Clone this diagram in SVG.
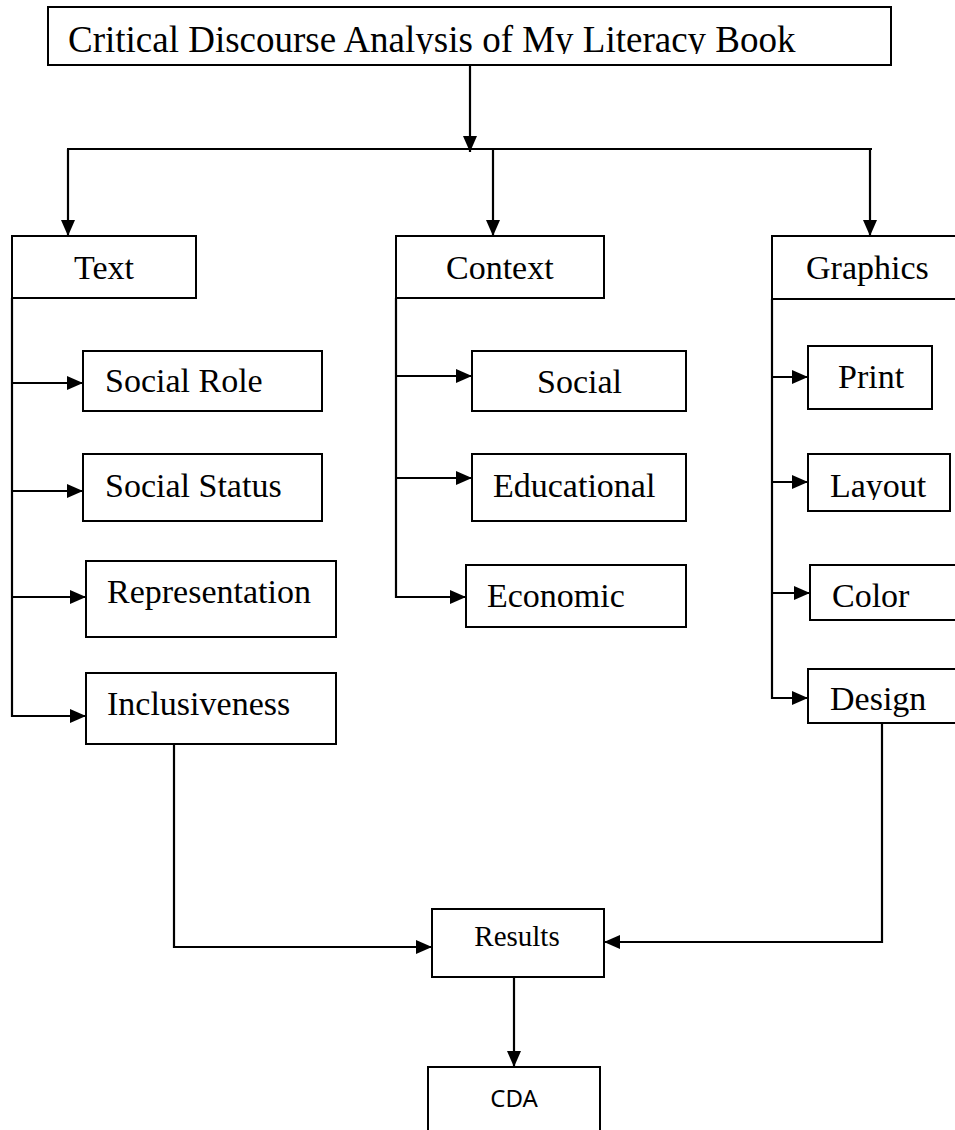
<svg xmlns="http://www.w3.org/2000/svg" width="955" height="1130" viewBox="0 0 955 1130">
<style>
.box{fill:#fff;stroke:#000;stroke-width:2}
.lbl{font-family:"Liberation Serif","Times New Roman",serif;font-size:34px;fill:#000}
.ttl{font-size:37px}
.res{font-size:29px}
.cda{font-family:"Noto Sans","Liberation Sans",sans-serif;font-size:24px;fill:#000}
.ln{fill:none;stroke:#000;stroke-width:2.2}
.arr{fill:none;stroke:#000;stroke-width:2.2;marker-end:url(#ah)}
</style>
<defs>
<marker id="ah" markerUnits="userSpaceOnUse" markerWidth="16" markerHeight="14" refX="16" refY="7" orient="auto">
<path d="M0,0 L16,7 L0,14 z" fill="#000"/>
</marker>
<clipPath id="cTitle"><rect x="48" y="7" width="843" height="47"/></clipPath>
<clipPath id="cLayout"><rect x="808" y="454" width="142" height="46"/></clipPath>
<clipPath id="cDesign"><rect x="808" y="669" width="147" height="49"/></clipPath>
</defs>
<rect width="955" height="1130" fill="#fff"/>
<g id="connectors">
<line class="arr" x1="470" y1="65" x2="470" y2="152"/>
<line class="ln" x1="67" y1="149" x2="872" y2="149"/>
<line class="arr" x1="68" y1="149" x2="68" y2="236"/>
<line class="arr" x1="493" y1="149" x2="493" y2="236"/>
<line class="arr" x1="870" y1="148" x2="870" y2="236"/>
<line class="ln" x1="12" y1="298" x2="12" y2="717"/>
<line class="arr" x1="12" y1="383" x2="83" y2="383"/>
<line class="arr" x1="12" y1="491" x2="83" y2="491"/>
<line class="arr" x1="12" y1="597" x2="86" y2="597"/>
<line class="arr" x1="11" y1="716" x2="86" y2="716"/>
<line class="ln" x1="396" y1="298" x2="396" y2="598"/>
<line class="arr" x1="396" y1="376" x2="472" y2="376"/>
<line class="arr" x1="396" y1="478" x2="472" y2="478"/>
<line class="arr" x1="395" y1="597" x2="466" y2="597"/>
<line class="ln" x1="772" y1="299" x2="772" y2="699"/>
<line class="arr" x1="772" y1="377" x2="808" y2="377"/>
<line class="arr" x1="772" y1="482" x2="808" y2="482"/>
<line class="arr" x1="772" y1="593" x2="810" y2="593"/>
<line class="arr" x1="771" y1="698" x2="808" y2="698"/>
<path class="arr" d="M174,744 V947 H432"/>
<path class="arr" d="M882,723 V942 H604"/>
<line class="arr" x1="514" y1="977" x2="514" y2="1067"/>
</g>
<g id="title">
<rect class="box" x="48" y="7" width="843" height="58"/>
<text class="lbl ttl" x="68" y="52" clip-path="url(#cTitle)">Critical Discourse Analysis of My Literacy Book</text>
</g>
<g id="text">
<rect class="box" x="12" y="236" width="184" height="62"/>
<text class="lbl" x="74" y="279">Text</text>
</g>
<g id="context">
<rect class="box" x="396" y="236" width="208" height="62"/>
<text class="lbl" x="446" y="279">Context</text>
</g>
<g id="graphics">
<rect class="box" x="772" y="236" width="190" height="63"/>
<text class="lbl" x="806" y="279">Graphics</text>
</g>
<g id="social-role">
<rect class="box" x="83" y="351" width="239" height="60"/>
<text class="lbl" x="105" y="392">Social Role</text>
</g>
<g id="social-status">
<rect class="box" x="83" y="454" width="239" height="67"/>
<text class="lbl" x="105" y="497">Social Status</text>
</g>
<g id="representation">
<rect class="box" x="86" y="561" width="250" height="76"/>
<text class="lbl" x="107" y="603">Representation</text>
</g>
<g id="inclusiveness">
<rect class="box" x="86" y="673" width="250" height="71"/>
<text class="lbl" x="107" y="715">Inclusiveness</text>
</g>
<g id="social">
<rect class="box" x="472" y="351" width="214" height="60"/>
<text class="lbl" x="537" y="393">Social</text>
</g>
<g id="educational">
<rect class="box" x="472" y="454" width="214" height="67"/>
<text class="lbl" x="493" y="497">Educational</text>
</g>
<g id="economic">
<rect class="box" x="466" y="565" width="220" height="62"/>
<text class="lbl" x="487" y="607">Economic</text>
</g>
<g id="print">
<rect class="box" x="808" y="346" width="124" height="63"/>
<text class="lbl" x="838" y="388">Print</text>
</g>
<g id="layout">
<rect class="box" x="808" y="454" width="142" height="57"/>
<text class="lbl" x="830" y="497" clip-path="url(#cLayout)">Layout</text>
</g>
<g id="color">
<rect class="box" x="810" y="565" width="150" height="55"/>
<text class="lbl" x="832" y="607">Color</text>
</g>
<g id="design">
<rect class="box" x="808" y="669" width="152" height="54"/>
<text class="lbl" x="830" y="710" clip-path="url(#cDesign)">Design</text>
</g>
<g id="results">
<rect class="box" x="432" y="909" width="172" height="68"/>
<text class="lbl res" x="517" y="946" text-anchor="middle">Results</text>
</g>
<g id="cda">
<rect class="box" x="428" y="1067" width="172" height="80"/>
<text class="cda" x="514" y="1107" text-anchor="middle">CDA</text>
</g>
</svg>
